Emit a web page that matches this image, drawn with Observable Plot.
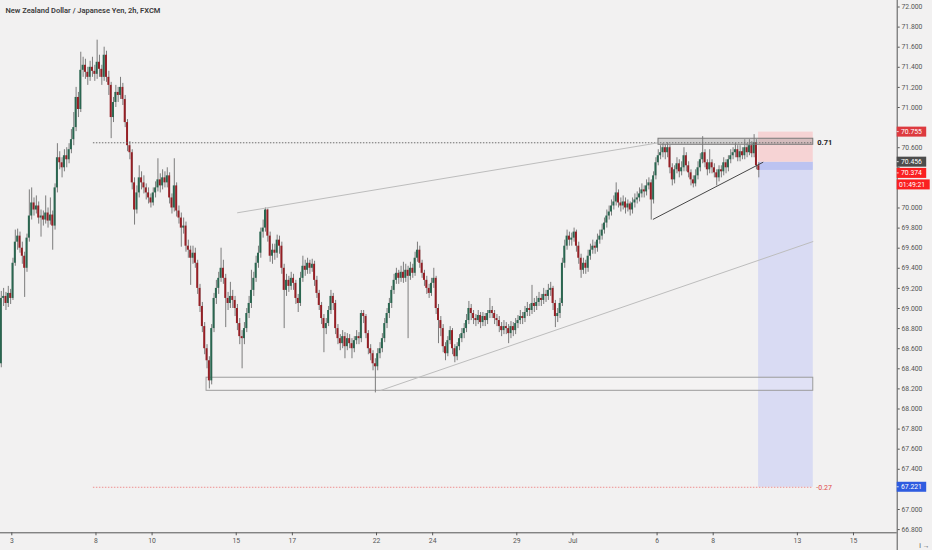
<!DOCTYPE html>
<html><head><meta charset="utf-8">
<script src="https://cdn.jsdelivr.net/npm/d3@7"></script>
<script src="https://cdn.jsdelivr.net/npm/@observablehq/plot@0.6"></script>
<style>
html,body{margin:0;padding:0;background:#f2f1f1;}
#chart{width:932px;height:550px;overflow:hidden;}
</style></head><body><div id="chart"></div>
<script>
// ---- DATA ----
const title = "New Zealand Dollar / Japanese Yen, 2h, FXCM";
const open=[68.45,69.10,69.12,69.05,69.15,69.10,69.45,69.66,69.72,69.60,
69.52,69.40,69.70,69.92,70.05,69.98,70.02,69.90,69.92,69.88,
69.95,69.87,69.93,69.82,70.20,70.50,70.45,70.40,70.52,70.48,
70.58,70.68,70.80,71.10,70.98,71.37,71.42,71.35,71.30,71.40,
71.36,71.33,71.45,71.38,71.30,71.52,71.30,71.22,70.90,71.05,
71.15,71.12,71.20,71.08,70.85,70.62,70.55,70.25,69.98,70.15,
70.30,70.25,70.20,70.15,70.10,70.05,70.15,70.20,70.28,70.22,
70.30,70.25,70.32,70.10,70.00,70.22,69.97,69.90,69.80,69.82,
69.62,69.58,69.50,69.55,69.45,69.20,69.02,68.82,68.60,68.48,
68.28,68.80,69.10,69.20,69.30,69.40,69.30,69.10,69.05,69.12,
69.08,69.00,68.85,68.72,68.70,68.80,68.95,69.05,69.18,69.30,
69.45,69.55,69.76,69.80,69.98,69.72,69.52,69.58,69.55,69.68,
69.62,69.40,69.18,69.28,69.22,69.30,69.25,69.10,69.05,69.30,
69.42,69.38,69.45,69.40,69.44,69.28,69.15,69.03,68.90,68.80,
68.85,68.98,69.12,69.05,68.80,68.70,68.65,68.72,68.62,68.70,
68.65,68.60,68.68,68.72,68.70,68.95,68.92,68.75,68.60,68.55,
68.45,68.42,68.55,68.60,68.70,68.85,68.95,69.05,69.18,69.28,
69.35,69.30,69.36,69.30,69.38,69.32,69.40,69.35,69.50,69.58,
69.45,69.35,69.28,69.20,69.15,69.25,69.30,69.00,68.88,68.80,
68.62,68.55,68.68,68.78,68.60,68.52,68.62,68.70,68.75,68.80,
68.88,69.00,68.95,68.90,68.88,68.93,68.86,68.92,68.88,68.95,
68.98,68.95,68.90,68.88,68.82,68.78,68.82,68.80,68.75,68.82,
68.78,68.85,68.88,68.92,68.90,68.96,69.00,68.98,69.05,69.02,
69.06,69.10,69.08,69.14,69.12,69.18,69.20,69.05,68.92,68.95,
69.05,69.45,69.62,69.72,69.68,69.70,69.76,69.62,69.50,69.38,
69.45,69.40,69.52,69.58,69.62,69.60,69.68,69.72,69.78,69.85,
69.92,69.96,70.02,70.06,70.15,70.05,70.02,70.06,70.00,70.04,
69.98,70.05,70.08,70.10,70.14,70.18,70.16,70.22,70.25,70.08,
70.32,70.45,70.52,70.55,70.60,70.55,70.60,70.40,70.28,70.38,
70.44,70.36,70.40,70.52,70.42,70.35,70.28,70.24,70.32,70.40,
70.48,70.55,70.45,70.38,70.45,70.40,70.35,70.30,70.38,70.36,
70.45,70.40,70.48,70.52,70.55,70.58,70.50,70.56,70.52,70.60,
70.55,70.62,70.54,70.65,70.42];
const high=[69.17,69.20,69.16,69.22,69.19,69.50,69.78,69.79,69.76,69.66,
69.56,69.74,70.18,70.20,70.10,70.12,70.06,69.98,69.97,70.12,
70.00,70.10,69.97,70.24,70.64,70.56,70.50,70.58,70.60,70.64,
70.78,70.95,71.20,71.15,71.55,71.50,71.48,71.40,71.46,71.50,
71.42,71.67,71.52,71.42,71.60,71.56,71.36,71.25,71.10,71.22,
71.20,71.30,71.24,71.12,70.88,70.66,70.58,70.30,70.22,70.42,
70.36,70.32,70.24,70.20,70.14,70.20,70.26,70.49,70.34,70.38,
70.36,70.40,70.35,70.14,70.49,70.25,70.02,69.95,69.90,69.86,
69.68,69.62,69.62,69.60,69.48,69.24,69.06,68.86,68.64,68.52,
68.84,69.15,69.28,69.36,69.60,69.48,69.34,69.16,69.26,69.18,
69.12,69.04,68.90,68.78,68.86,69.00,69.12,69.38,69.36,69.52,
69.62,69.80,69.88,70.00,69.99,69.76,69.64,69.64,69.73,69.72,
69.66,69.44,69.34,69.32,69.36,69.34,69.28,69.14,69.36,69.52,
69.48,69.50,69.48,69.49,69.47,69.32,69.18,69.06,68.94,68.90,
69.02,69.18,69.15,69.08,68.84,68.74,68.78,68.76,68.75,68.74,
68.70,68.72,68.78,68.76,68.98,68.98,68.94,68.78,68.64,68.58,
68.50,68.60,68.66,68.75,68.90,69.00,69.10,69.22,69.34,69.40,
69.38,69.42,69.46,69.44,69.42,69.46,69.44,69.56,69.66,69.62,
69.48,69.38,69.32,69.24,69.30,69.40,69.32,69.04,68.92,68.84,
68.66,68.72,68.82,68.80,68.64,68.66,68.74,68.80,68.85,68.94,
69.07,69.04,68.98,68.94,68.98,68.96,68.96,68.95,68.98,69.10,
69.02,68.98,68.94,68.92,68.86,68.88,68.86,68.84,68.87,68.86,
68.90,68.93,68.98,68.96,69.02,69.06,69.04,69.23,69.10,69.12,
69.16,69.14,69.20,69.18,69.24,69.26,69.22,69.08,69.00,69.10,
69.50,69.68,69.78,69.76,69.75,69.80,69.78,69.66,69.54,69.50,
69.48,69.58,69.64,69.68,69.66,69.74,69.78,69.84,69.90,69.98,
70.02,70.08,70.12,70.25,70.18,70.10,70.12,70.10,70.08,70.06,
70.10,70.14,70.16,70.20,70.24,70.22,70.28,70.30,70.28,70.36,
70.50,70.58,70.62,70.64,70.63,70.65,70.62,70.44,70.42,70.50,
70.48,70.46,70.60,70.55,70.46,70.38,70.32,70.38,70.46,70.54,
70.71,70.58,70.48,70.58,70.48,70.44,70.38,70.42,70.42,70.50,
70.48,70.52,70.58,70.60,70.64,70.62,70.62,70.60,70.68,70.64,
70.68,70.66,70.73,70.68,70.45];
const low=[68.41,69.02,68.98,69.01,69.04,69.08,69.42,69.58,69.55,69.44,
69.11,69.36,69.66,69.88,69.92,69.94,69.84,69.71,69.82,69.84,
69.80,69.83,69.58,69.78,70.15,70.38,70.30,70.36,70.40,70.44,
70.54,70.62,70.76,70.90,70.95,71.30,71.28,71.22,71.26,71.30,
71.26,71.28,71.30,71.22,71.26,71.25,71.12,70.69,70.85,71.00,
71.05,71.08,71.02,70.80,70.56,70.48,70.18,69.83,69.94,70.10,
70.18,70.14,70.08,70.04,70.00,70.02,70.10,70.16,70.15,70.18,
70.20,70.20,70.04,69.94,69.96,69.91,69.84,69.61,69.74,69.56,
69.50,69.23,69.44,69.40,69.14,68.96,68.76,68.54,68.40,68.20,
68.24,68.76,69.04,69.14,69.26,69.24,68.81,68.98,69.00,69.00,
68.92,68.78,68.64,68.40,68.64,68.76,68.90,69.00,69.12,69.26,
69.40,69.50,69.70,69.76,69.66,69.46,69.44,69.48,69.50,69.54,
69.34,68.80,69.12,69.16,69.18,69.18,69.04,68.96,69.02,69.26,
69.32,69.34,69.34,69.36,69.22,69.10,68.98,68.84,68.56,68.74,
68.82,68.94,68.98,68.74,68.64,68.58,68.60,68.50,68.58,68.60,
68.50,68.56,68.64,68.64,68.66,68.85,68.70,68.54,68.48,68.38,
68.16,68.38,68.50,68.56,68.66,68.80,68.90,69.00,69.14,69.24,
69.24,69.26,69.25,69.26,68.70,69.28,69.30,69.32,69.46,69.40,
69.30,69.22,69.14,69.10,69.12,69.20,68.94,68.65,68.72,68.56,
68.48,68.52,68.64,68.54,68.46,68.48,68.58,68.66,68.70,68.76,
68.84,68.88,68.84,68.82,68.84,68.80,68.82,68.82,68.84,68.90,
68.90,68.84,68.82,68.76,68.72,68.74,68.74,68.65,68.70,68.72,
68.74,68.80,68.84,68.84,68.86,68.92,68.92,68.94,68.96,68.98,
69.02,69.02,69.04,69.06,69.08,69.12,68.98,68.81,68.86,68.90,
69.02,69.40,69.58,69.62,69.62,69.66,69.56,69.44,69.30,69.34,
69.34,69.36,69.48,69.54,69.54,69.56,69.64,69.68,69.74,69.80,
69.88,69.92,69.98,70.02,70.00,69.96,69.98,69.94,69.96,69.92,
69.94,70.00,70.04,70.06,70.10,70.10,70.12,70.18,69.88,70.04,
70.28,70.42,70.48,70.50,70.48,70.50,70.34,70.22,70.24,70.34,
70.30,70.32,70.36,70.36,70.30,70.22,70.20,70.21,70.28,70.36,
70.44,70.40,70.32,70.34,70.34,70.30,70.22,70.26,70.30,70.32,
70.34,70.36,70.44,70.48,70.50,70.46,70.46,70.48,70.48,70.50,
70.52,70.50,70.50,70.38,70.30];
const close=[69.10,69.12,69.05,69.15,69.10,69.45,69.66,69.72,69.60,69.52,
69.40,69.70,69.92,70.05,69.98,70.02,69.90,69.92,69.88,69.95,
69.87,69.93,69.82,70.20,70.50,70.45,70.40,70.52,70.48,70.58,
70.68,70.80,71.10,70.98,71.37,71.42,71.35,71.30,71.40,71.36,
71.33,71.45,71.38,71.30,71.52,71.30,71.22,70.90,71.05,71.15,
71.12,71.20,71.08,70.85,70.62,70.55,70.25,69.98,70.15,70.30,
70.25,70.20,70.15,70.10,70.05,70.15,70.20,70.28,70.22,70.30,
70.25,70.32,70.10,70.00,70.22,69.97,69.90,69.80,69.82,69.62,
69.58,69.50,69.55,69.45,69.20,69.02,68.82,68.60,68.48,68.28,
68.80,69.10,69.20,69.30,69.40,69.30,69.10,69.05,69.12,69.08,
69.00,68.85,68.72,68.70,68.80,68.95,69.05,69.18,69.30,69.45,
69.55,69.76,69.80,69.98,69.72,69.52,69.58,69.55,69.68,69.62,
69.40,69.18,69.28,69.22,69.30,69.25,69.10,69.05,69.30,69.42,
69.38,69.45,69.40,69.44,69.28,69.15,69.03,68.90,68.80,68.85,
68.98,69.12,69.05,68.80,68.70,68.65,68.72,68.62,68.70,68.65,
68.60,68.68,68.72,68.70,68.95,68.92,68.75,68.60,68.55,68.45,
68.42,68.55,68.60,68.70,68.85,68.95,69.05,69.18,69.28,69.35,
69.30,69.36,69.30,69.38,69.32,69.40,69.35,69.50,69.58,69.45,
69.35,69.28,69.20,69.15,69.25,69.30,69.00,68.88,68.80,68.62,
68.55,68.68,68.78,68.60,68.52,68.62,68.70,68.75,68.80,68.88,
69.00,68.95,68.90,68.88,68.93,68.86,68.92,68.88,68.95,68.98,
68.95,68.90,68.88,68.82,68.78,68.82,68.80,68.75,68.82,68.78,
68.85,68.88,68.92,68.90,68.96,69.00,68.98,69.05,69.02,69.06,
69.10,69.08,69.14,69.12,69.18,69.20,69.05,68.92,68.95,69.05,
69.45,69.62,69.72,69.68,69.70,69.76,69.62,69.50,69.38,69.45,
69.40,69.52,69.58,69.62,69.60,69.68,69.72,69.78,69.85,69.92,
69.96,70.02,70.06,70.15,70.05,70.02,70.06,70.00,70.04,69.98,
70.05,70.08,70.10,70.14,70.18,70.16,70.22,70.25,70.08,70.32,
70.45,70.52,70.55,70.60,70.55,70.60,70.40,70.28,70.38,70.44,
70.36,70.40,70.52,70.42,70.35,70.28,70.24,70.32,70.40,70.48,
70.55,70.45,70.38,70.45,70.40,70.35,70.30,70.38,70.36,70.45,
70.40,70.48,70.52,70.55,70.58,70.50,70.56,70.52,70.60,70.55,
70.62,70.54,70.65,70.42,70.374];

// x axis: candle index of each day start, and its label
const xTickPos = [4.5,40.5,64.5,100.5,124.5,160.5,184.5,220.5,244.5,280.5,304.5,340.5,364.5];
const xTickLabels = ["3","8","10","15","17","22","24","29","Jul","6","8","13","15"];
const yTicks = [72,71.8,71.6,71.4,71.2,71,70.8,70.6,70.4,70.2,70,69.8,69.6,69.4,69.2,69,68.8,68.6,68.4,68.2,68,67.8,67.6,67.4,67.2,67,66.8];

// drawings (candle index / price)
const fibStartX = 39.4, drawEndX = 347.3;
const fibLevels = [70.649, 67.221];
const fibLabels = ["0.71", "-0.27"];
const posStartX = 323.9;
const posEntry = 70.456, posStop = 70.755, posTarget = 67.221, lastPrice = 70.374;
const resistBox = [281.1, 70.629, 70.689];   // x start, low, high
const supportBox = [87.8, 68.181, 68.311];
const trendUpper = [[100.9, 69.952], [281.1, 70.649]];
const trendLower = [[162.2, 68.184], [347.3, 69.667]];
const triangleLine = [[278.7, 69.886], [325.9, 70.456]];
const tagValues = [70.755, 70.456, 70.374, 70.374, 67.221];
const tagTexts = ["70.755", "70.456", "70.374", "01:49:21", "67.221"];

// ---- STYLE ----
const upColor = "#2a6650", downColor = "#951f25", wickColor = "#7c7c7c";
const axisColor = "#555";
const font = "Roboto, 'Liberation Sans', sans-serif";
const tagFill = ["#dd3a3f", "#4c4c4c", "#fa2020", "#fa2020", "#2f5ce0"];
const tagShift = [0, 0, 3, 14.5, 0];
const tagWidth = [29.5, 29.5, 29.5, 33, 29.5];
const tagTextDx = [4.3, 4.3, 4.3, 2.2, 4.3];
const tagDash = [true, true, true, false, true];

const candles = close.map((c, i) => ({i, open: open[i], high: high[i], low: low[i], close: c}));
const labelAt = new Map(xTickPos.map((p, i) => [p, xTickLabels[i]]));
const xDomain = [-0.334, 383.2];
const yDomain = [66.768, 72.0647];
const link = (pts, opts) => Plot.link([pts], {x1: d => d[0][0], y1: d => d[0][1], x2: d => d[1][0], y2: d => d[1][1], ...opts});

const chart = Plot.plot({
  width: 932, height: 550,
  marginLeft: 0, marginRight: 35.3, marginTop: 0, marginBottom: 17.7,
  x: {domain: xDomain, axis: null},
  y: {domain: yDomain, axis: null},
  style: {background: "#f2f1f1", fontFamily: font, color: axisColor},
  marks: [
    // position tool zones
    Plot.rect([0], {x1: posStartX, x2: drawEndX, y1: posTarget, y2: posEntry, fill: "#d9dbf3"}),
    Plot.rect([0], {x1: posStartX, x2: drawEndX, y1: lastPrice, y2: posEntry, fill: "#bcc3f1"}),
    Plot.rect([0], {x1: posStartX, x2: drawEndX, y1: posEntry, y2: posStop, fill: "#f6d3d4"}),
    // support box
    Plot.rect([0], {x1: supportBox[0], x2: drawEndX, y1: supportBox[1], y2: supportBox[2], fill: "#ffffff", fillOpacity: 0.18, stroke: "#9c9c9c", strokeWidth: 1}),
    // candles
    Plot.ruleX(candles, {x: "i", y1: "low", y2: "high", stroke: wickColor, strokeWidth: 1}),
    Plot.rect(candles, {x1: d => d.i - 0.42, x2: d => d.i + 0.42, y1: "open", y2: "close",
      fill: d => d.close >= d.open ? upColor : downColor}),
    // resistance box
    Plot.rect([0], {x1: resistBox[0], x2: drawEndX, y1: resistBox[1], y2: resistBox[2], fill: "#8c8c8c", fillOpacity: 0.32, stroke: "#7a7a7a", strokeWidth: 1}),
    // fib level lines
    Plot.ruleY([fibLevels[0]], {x1: fibStartX, x2: drawEndX, stroke: "#6f6f6f", strokeWidth: 1, strokeDasharray: "1.5,1.5"}),
    Plot.ruleY([fibLevels[1]], {x1: fibStartX, x2: drawEndX, stroke: "#ef9090", strokeWidth: 1, strokeDasharray: "1.5,1.5"}),
    Plot.text([fibLabels[0]], {x: drawEndX, y: fibLevels[0], dx: 4, textAnchor: "start", fontSize: 7.5, fontWeight: "bold", fill: "#222"}),
    Plot.text([fibLabels[1]], {x: drawEndX, y: fibLevels[1], dx: 3, textAnchor: "start", fontSize: 7, fill: "#e04848"}),
    // trend lines
    link(trendUpper, {stroke: "#bdbdbd", strokeWidth: 1}),
    link(trendLower, {stroke: "#bdbdbd", strokeWidth: 1}),
    link(triangleLine, {stroke: "#333", strokeWidth: 0.9}),
    // axes
    Plot.ruleY([yDomain[0]], {stroke: axisColor, strokeWidth: 1}),
    Plot.ruleX([xDomain[1]], {y1: yDomain[1], y2: 66.59, stroke: axisColor, strokeWidth: 1}),
    Plot.axisY({anchor: "right", ticks: yTicks, tickFormat: d => d.toFixed(3), tickSize: 2, tickPadding: 2.3, fontSize: 6.8, color: axisColor}),
    Plot.axisX({anchor: "bottom", ticks: xTickPos, tickFormat: d => labelAt.get(d), tickSize: 3, tickPadding: 2, fontSize: 6.8, color: axisColor}),
    // title
    Plot.text([title], {frameAnchor: "top-left", dx: 5, dy: 7, lineAnchor: "top", textAnchor: "start", fontSize: 7.5, fontWeight: 600, fill: "#3a3a3a"})
  ]
});

// price tags on the right axis, positioned through the plot's scales
const ys = chart.scale("y"), xs = chart.scale("x");
const xr = xs.apply(xDomain[1]);
const boxes = tagValues.map((v, i) => ys.apply(v) + tagShift[i]);
// hide the axis labels that sit under a tag (as in the reference)
const tickTexts = chart.querySelectorAll('g[aria-label="y-axis tick label"] text');
yTicks.forEach((t, k) => {
  const py = ys.apply(t);
  if (boxes.some(cy => Math.abs(cy - py) < 8.5) && tickTexts[k]) tickTexts[k].remove();
});
const g = d3.select(chart).append("g").attr("text-anchor", "start");
tagValues.forEach((v, i) => {
  const cy = boxes[i];
  g.append("rect").attr("x", xr).attr("y", cy - 5).attr("width", tagWidth[i]).attr("height", 10).attr("fill", tagFill[i]);
  if (tagDash[i]) g.append("line").attr("x1", xr).attr("x2", xr + 2).attr("y1", cy).attr("y2", cy).attr("stroke", "#fff").attr("stroke-width", 0.8);
  g.append("text").attr("x", xr + tagTextDx[i]).attr("y", cy).attr("dy", "0.35em").attr("text-anchor", "start")
    .attr("fill", "#fff").attr("font-size", 6.8).attr("font-family", font).text(tagTexts[i]);
});

document.getElementById("chart").appendChild(chart);
</script>
</body></html>
